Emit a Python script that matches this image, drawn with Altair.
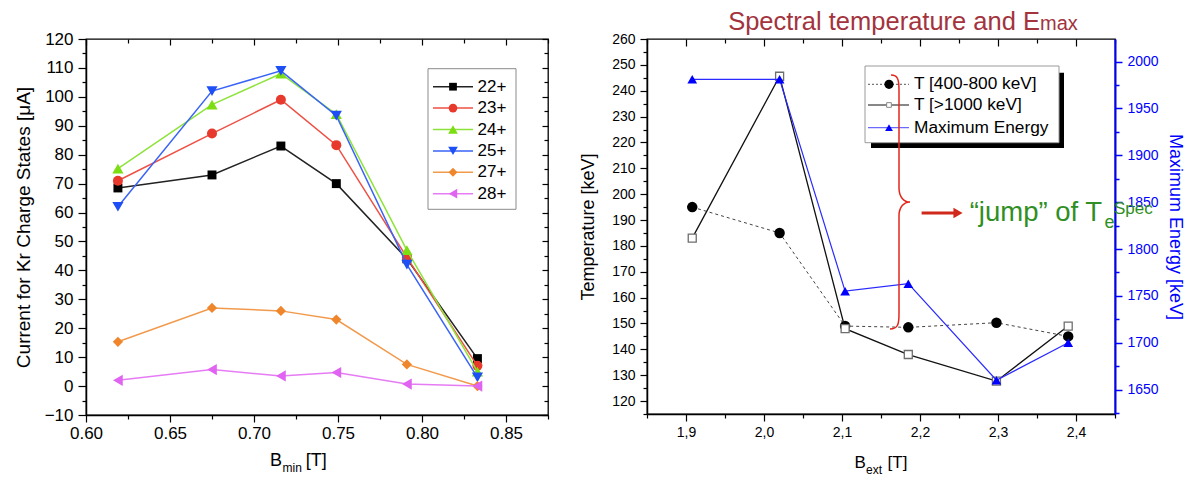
import altair as alt
import pandas as pd

FONT = "Liberation Sans"

# ---------------- left panel data ----------------
b_min = [0.619, 0.675, 0.716, 0.749, 0.791, 0.833]
charge_states = ["22+", "23+", "24+", "25+", "27+", "28+"]
cur_22 = [68.5, 73.0, 83.0, 70.0, 44.0, 9.5]
cur_23 = [71.0, 87.3, 99.0, 83.3, 44.5, 7.0]
cur_24 = [75.2, 97.3, 108.0, 94.0, 47.0, 5.0]
cur_25 = [62.0, 102.0, 109.0, 93.5, 42.0, 3.0]
cur_27 = [15.3, 27.0, 26.0, 23.0, 7.5, 0.0]
cur_28 = [2.0, 5.7, 3.5, 4.7, 0.7, 0.0]
currents = [cur_22, cur_23, cur_24, cur_25, cur_27, cur_28]

marker_colors = ["#000000", "#e8392d", "#7cdd12", "#1e4ff5", "#f0862c", "#e063f2"]
line_colors = ["#222222", "#ee5044", "#8ee33a", "#3a63f7", "#f29a4c", "#e67cf4"]
marker_shapes = ["square", "circle", "triangle-up", "triangle-down", "diamond", "triangle-left"]
marker_sizes = [80, 100, 125, 125, 105, 125]

x_major_1 = [0.6, 0.65, 0.7, 0.75, 0.8, 0.85]
x_minor_1 = [0.625, 0.675, 0.725, 0.775, 0.825, 0.875]
y_major_1 = list(range(-10, 121, 10))
y_minor_1 = list(range(-5, 116, 10))

# ---------------- right panel data ----------------
b_ext = [1.908, 2.020, 2.104, 2.185, 2.298, 2.390]
t_400_800 = [195.0, 185.0, 149.0, 148.5, 150.3, 145.0]
t_above_1000 = [183.0, 245.6, 148.0, 138.0, 127.7, 149.0]
e_max = [1981, 1981, 1755, 1763, 1660, 1700]
right_legend = ["T [400-800 keV]", "T [>1000 keV]", "Maximum Energy"]

x_major_2 = [1.9, 2.0, 2.1, 2.2, 2.3, 2.4]
x_minor_2 = [1.85, 1.95, 2.05, 2.15, 2.25, 2.35, 2.45]
yT_major = list(range(120, 261, 10))
yT_minor = list(range(115, 256, 10))
yE_major = [1650, 1700, 1750, 1800, 1850, 1900, 1950, 2000]
yE_minor = [1625, 1675, 1725, 1775, 1825, 1875, 1925, 1975]

W1, H1 = 462, 376
W2, H2 = 468, 375


def ax(orient, values, tick, offset=0, labels=False, domain=False, **kw):
    return alt.Axis(orient=orient, values=values, tickSize=tick, offset=offset,
                    labels=labels, domain=domain, grid=False, ticks=True, title=None, **kw)


def one(text):
    return pd.DataFrame({"t": [text]})


def text_at(text, x, y, size, color="black", align="left", baseline="alphabetic"):
    return alt.Chart(one(text)).mark_text(
        align=align, baseline=baseline, fontSize=size, color=color, font=FONT
    ).encode(x=alt.value(x), y=alt.value(y), text="t:N")


# ================= LEFT PANEL =================
xs1 = alt.Scale(domain=[0.6, 0.875], nice=False, zero=False)
ys1 = alt.Scale(domain=[-10, 120], nice=False, zero=False)

x_axes_1 = [
    ax("bottom", x_major_1, 7, labels=True, domain=True, labelFontSize=17, labelPadding=3,
       labelExpr="format(datum.value, '.2f')"),
    ax("bottom", x_minor_1, 4),
    ax("bottom", x_major_1, 6, offset=-H1),
    ax("bottom", x_minor_1, 4, offset=-H1),
]
y_axes_1 = [
    alt.Axis(orient="left", values=y_major_1, tickSize=8, labels=True, domain=True, grid=False,
             labelFontSize=17, labelPadding=5, title="Current for Kr Charge States [μA]",
             titleFontSize=19, titlePadding=11),
    ax("left", y_minor_1, 4),
    ax("left", y_major_1, 6, offset=-W1),
    ax("left", y_minor_1, 4, offset=-W1),
]

left_layers = []
k = 0
for i, name in enumerate(charge_states):
    d = pd.DataFrame({"b": b_min, "cur": currents[i]})
    xa = x_axes_1[k] if k < 4 else None
    ya = y_axes_1[k] if k < 4 else None
    k += 1
    line = alt.Chart(d).mark_line(color=line_colors[i], strokeWidth=1.5).encode(
        x=alt.X("b:Q", scale=xs1, axis=xa),
        y=alt.Y("cur:Q", scale=ys1, axis=ya),
    )
    xa = x_axes_1[k] if k < 4 else None
    ya = y_axes_1[k] if k < 4 else None
    k += 1
    pts = alt.Chart(d).mark_point(shape=marker_shapes[i], filled=True, color=marker_colors[i],
                                  size=marker_sizes[i], opacity=1).encode(
        x=alt.X("b:Q", scale=xs1, axis=xa),
        y=alt.Y("cur:Q", scale=ys1, axis=ya),
    )
    left_layers += [line, pts]

# legend box (left)
left_layers.append(
    alt.Chart(one("box")).mark_rect(fill="white", stroke="#8a8a8a", strokeWidth=1).encode(
        x=alt.value(342), x2=alt.value(430), y=alt.value(29.7), y2=alt.value(170.3))
)
for i, name in enumerate(charge_states):
    yy = 47.7 + 21.4 * i
    left_layers.append(
        alt.Chart(one(name)).mark_rule(color=line_colors[i], strokeWidth=1.5).encode(
            x=alt.value(347), x2=alt.value(387), y=alt.value(yy)))
    left_layers.append(
        alt.Chart(one(name)).mark_point(shape=marker_shapes[i], filled=True, color=marker_colors[i],
                                        size=marker_sizes[i] * 0.75, opacity=1).encode(
            x=alt.value(367), y=alt.value(yy)))
    left_layers.append(text_at(name, 391.5, yy, 17, baseline="middle"))

# x title with subscript (left)
left_layers.append(text_at("B", 184, 427, 18))
left_layers.append(text_at("min", 196.6, 433, 12))
left_layers.append(text_at("[T]", 219.8, 427, 18))

left = alt.layer(*left_layers).resolve_axis(x="independent", y="independent").properties(
    width=W1, height=H1)

# ================= RIGHT PANEL =================
xs2 = alt.Scale(domain=[1.85, 2.45], nice=False, zero=False)
yT = alt.Scale(domain=[115, 260], nice=False, zero=False)
yE = alt.Scale(domain=[1624, 2024], nice=False, zero=False)

lab2 = "replace(format(datum.value, '.1f'), '.', ',')"
dT1 = pd.DataFrame({"b": b_ext, "v": t_400_800})
dT2 = pd.DataFrame({"b": b_ext, "v": t_above_1000})
dE = pd.DataFrame({"b": b_ext, "v": e_max})

BLUE = "#0000ff"
right_layers = [
    alt.Chart(dT1).mark_line(color="#444444", strokeDash=[3, 3], strokeWidth=1).encode(
        x=alt.X("b:Q", scale=xs2, axis=ax("bottom", x_major_2, 7, labels=True, domain=True,
                                         labelFontSize=14, labelPadding=4, labelExpr=lab2)),
        y=alt.Y("v:Q", scale=yT, axis=alt.Axis(orient="left", values=yT_major, tickSize=7,
                                                labels=True, domain=True, grid=False,
                                                labelFontSize=14, labelPadding=5,
                                                title="Temperature [keV]", titleFontSize=18,
                                                titlePadding=14))),
    alt.Chart(dT1).mark_point(shape="circle", filled=True, color="black", size=110, opacity=1).encode(
        x=alt.X("b:Q", scale=xs2, axis=ax("bottom", x_minor_2, 4)),
        y=alt.Y("v:Q", scale=yT, axis=ax("left", yT_minor, 4))),
    alt.Chart(dT2).mark_line(color="#111111", strokeWidth=1.3).encode(
        x=alt.X("b:Q", scale=xs2, axis=ax("bottom", x_major_2, 7, offset=-H2)),
        y=alt.Y("v:Q", scale=yT, axis=None)),
    alt.Chart(dT2).mark_point(shape="square", fill="white", stroke="#6e6e6e", strokeWidth=1.3,
                              size=64, opacity=1).encode(
        x=alt.X("b:Q", scale=xs2, axis=ax("bottom", x_minor_2, 4, offset=-H2)),
        y=alt.Y("v:Q", scale=yT, axis=None)),
    alt.Chart(dE).mark_line(color="#2a2aff", strokeWidth=1.2).encode(
        x=alt.X("b:Q", scale=xs2, axis=None),
        y=alt.Y("v:Q", scale=yE, axis=alt.Axis(orient="right", values=yE_major, tickSize=7,
                                                labels=True, domain=True, grid=False, format="d",
                                                domainColor=BLUE, domainWidth=2, tickColor=BLUE,
                                                tickWidth=1.5, labelColor=BLUE, labelFontSize=14,
                                                labelPadding=5, title="Maximum Energy [keV]",
                                                titleColor=BLUE, titleFontSize=18,
                                                titlePadding=7))),
    alt.Chart(dE).mark_point(shape="triangle-up", filled=True, color=BLUE, size=95, opacity=1).encode(
        x=alt.X("b:Q", scale=xs2, axis=None),
        y=alt.Y("v:Q", scale=yE, axis=ax("right", yE_minor, 4, tickColor=BLUE, tickWidth=1.5))),
]

# legend (right) with shadow
right_layers.append(
    alt.Chart(one("shadow")).mark_rect(fill="black").encode(
        x=alt.value(224), x2=alt.value(417), y=alt.value(33.7), y2=alt.value(109)))
right_layers.append(
    alt.Chart(one("box")).mark_rect(fill="white", stroke="#9a9a9a", strokeWidth=1).encode(
        x=alt.value(218), x2=alt.value(412), y=alt.value(27), y2=alt.value(103.7)))
leg_rows = [45.3, 66.0, 88.7]
right_layers += [
    alt.Chart(one(right_legend[0])).mark_rule(color="#555555", strokeDash=[2, 2], strokeWidth=1).encode(
        x=alt.value(221), x2=alt.value(262), y=alt.value(leg_rows[0])),
    alt.Chart(one(right_legend[0])).mark_point(shape="circle", filled=True, color="black", size=85,
                                               opacity=1).encode(x=alt.value(242), y=alt.value(leg_rows[0])),
    alt.Chart(one(right_legend[1])).mark_rule(color="#111111", strokeWidth=1).encode(
        x=alt.value(221), x2=alt.value(262), y=alt.value(leg_rows[1])),
    alt.Chart(one(right_legend[1])).mark_point(shape="square", fill="white", stroke="#888888",
                                               strokeWidth=1, size=22, opacity=1).encode(
        x=alt.value(242), y=alt.value(leg_rows[1])),
    alt.Chart(one(right_legend[2])).mark_rule(color="#6a6aff", strokeWidth=1.2).encode(
        x=alt.value(221), x2=alt.value(262), y=alt.value(leg_rows[2])),
    alt.Chart(one(right_legend[2])).mark_point(shape="triangle-up", filled=True, color=BLUE, size=60,
                                               opacity=1).encode(x=alt.value(242), y=alt.value(leg_rows[2])),
]
for i, name in enumerate(right_legend):
    right_layers.append(text_at(name, 267, leg_rows[i], 17.3, baseline="middle"))

# annotation: brace, arrow, green label
BRACE = ("M-0.063,-1C-0.008,-1,0,-0.961,0,-0.882L0,-0.11C0,-0.039,0.039,0,0.087,0"
         "C0.039,0,0,0.039,0,0.11L0,0.882C0,0.961,-0.008,1,-0.071,1")
right_layers += [
    alt.Chart(one("brace")).mark_point(shape=BRACE, filled=False, color="#e3261c", strokeWidth=1.5,
                                       size=64516, opacity=1).encode(x=alt.value(252), y=alt.value(163)),
    alt.Chart(one("arrow")).mark_rule(color="#d0281a", strokeWidth=3).encode(
        x=alt.value(274.6), x2=alt.value(307), y=alt.value(174)),
    alt.Chart(one("arrowhead")).mark_point(shape="triangle-right", filled=True, color="#d0281a",
                                           size=110, opacity=1).encode(x=alt.value(311), y=alt.value(174)),
]
GREEN = "#2f8f24"
right_layers.append(text_at("\u201cjump\u201d of T", 322.7, 182, 27.5, color=GREEN))
right_layers.append(text_at("e", 457.4, 189, 18, color=GREEN))
right_layers.append(text_at("Spec", 467, 175, 17, color=GREEN))

# title
TITLE_RED = "#a3333d"
right_layers.append(text_at("Spectral temperature and E", 393, -9, 25.5, color=TITLE_RED, align="right"))
right_layers.append(text_at("max", 393, -9, 20, color=TITLE_RED))

# x title with subscript (right)
right_layers.append(text_at("B", 207.4, 428.7, 17))
right_layers.append(text_at("ext", 219, 435, 12))
right_layers.append(text_at("[T]", 240.6, 428.7, 17))

right = alt.layer(*right_layers).resolve_scale(y="independent").resolve_axis(
    x="independent", y="independent").properties(width=W2, height=H2)

chart = alt.hconcat(left, right, spacing=99, bounds="flush").properties(
    padding={"left": 13, "top": 9, "right": 5, "bottom": 0}
).configure(font=FONT).configure_view(stroke="black", strokeWidth=1.3).configure_axis(
    labelFont=FONT, titleFont=FONT, labelColor="black", titleColor="black",
    tickColor="black", domainColor="black", domainWidth=1.5, tickWidth=1.2,
    titleFontWeight="normal", labelFlush=False, labelOverlap=False, grid=False
)

chart.save("out.html", embed_options={"renderer": "svg", "actions": False})
